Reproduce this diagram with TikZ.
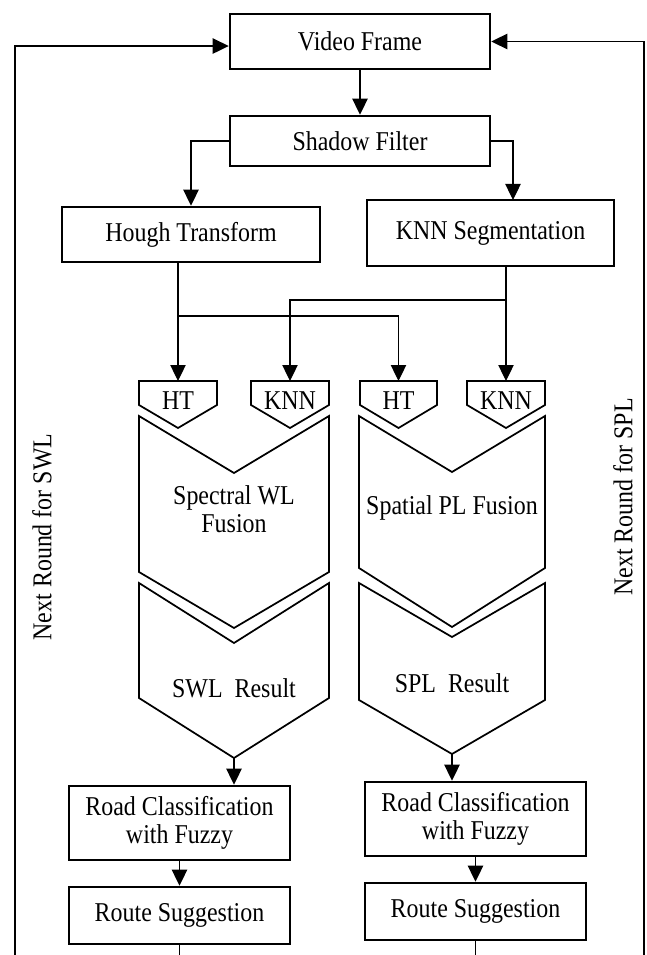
\documentclass[tikz,border=0pt]{standalone}
\usepackage{fontspec}
\setmainfont{Liberation Serif}[FakeStretch=0.88]
\usetikzlibrary{arrows.meta}

\tikzset{every picture/.style={line width=0.75pt}}
\tikzset{
  procbox/.style={draw, line width=1.9pt, inner sep=0pt, align=center, font=\fontsize{20.4}{20.5}\selectfont},
  plaintext/.style={inner sep=0pt, align=center, font=\fontsize{20.4}{21}\selectfont},
  flow/.style={line width=0.9pt, -{Triangle[length=12pt,width=11.5pt]}},
  stage/.style={line width=1.3pt, line join=miter},
}

\begin{document}
\begin{tikzpicture}[x=0.75pt,y=0.75pt,yscale=-1,xscale=1]
    \useasboundingbox (0,0) rectangle (646,955);

    %Shape: Rectangle [vf]
    \node[procbox, minimum width=195pt, minimum height=41.25pt] (vf) at (360,41.5) {Video Frame};
    %Shape: Rectangle [sf]
    \node[procbox, minimum width=195pt, minimum height=37.5pt] (sf) at (360,141) {Shadow Filter};
    %Shape: Rectangle [ht]
    \node[procbox, minimum width=193.5pt, minimum height=41.25pt] (ht) at (191,234.5) {Hough Transform};
    %Shape: Rectangle [knn]
    \node[procbox, minimum width=185.25pt, minimum height=49.5pt] (knn) at (490.5,233) {KNN Segmentation};

    %Shape: Tags over the fusion stages
    \draw[stage] (139,381) -- (217,381) -- (217,405) -- (178,428) -- (139,405) -- cycle ;
    \draw[stage] (251,381) -- (329,381) -- (329,405) -- (290,428) -- (251,405) -- cycle ;
    \draw[stage] (360,381) -- (437,381) -- (437,405) -- (398.5,428) -- (360,405) -- cycle ;
    \draw[stage] (467,381) -- (545,381) -- (545,405) -- (506,428) -- (467,405) -- cycle ;

    %Shape: Chevron (spectral fusion)
    \draw[stage] (139,416) -- (234,473) -- (329,416) -- (329,572) -- (234,628) -- (139,572) -- cycle ;
    %Shape: Chevron (spatial fusion)
    \draw[stage] (359,416) -- (452,472) -- (545,416) -- (545,568) -- (452,627) -- (359,568) -- cycle ;
    %Shape: Chevron (SWL result)
    \draw[stage] (139,583) -- (234,643) -- (329,583) -- (329,698) -- (234,758) -- (139,698) -- cycle ;
    %Shape: Chevron (SPL result)
    \draw[stage] (359,583) -- (452,637) -- (545,583) -- (545,700) -- (452,754) -- (359,700) -- cycle ;

    %Shape: Rectangle [rcA, rsA]
    \node[procbox, minimum width=165.75pt, minimum height=55.5pt] (rcA) at (179.5,823) {Road Classification\\with Fuzzy};
    \node[procbox, minimum width=165.75pt, minimum height=42.75pt] (rsA) at (179.5,915.5) {Route Suggestion};
    %Shape: Rectangle [rcB, rsB]
    \node[procbox, minimum width=165.75pt, minimum height=55.5pt] (rcB) at (475.5,819) {Road Classification\\with Fuzzy};
    \node[procbox, minimum width=165.75pt, minimum height=42.75pt] (rsB) at (475.5,911.5) {Route Suggestion};

    % Text Node
    \node[plaintext] (htAtxt) at (178,401) {HT};
    % Text Node
    \node[plaintext] (knnAtxt) at (290,401) {KNN};
    % Text Node
    \node[plaintext] (htBtxt) at (398.5,401) {HT};
    % Text Node
    \node[plaintext] (knnBtxt) at (506,401) {KNN};
    % Text Node
    \node[plaintext] (swlfuse) at (234,509) {Spectral WL\\Fusion};
    % Text Node
    \node[plaintext] (splfuse) at (452,508) {Spatial PL Fusion};
    % Text Node
    \node[plaintext] (swlres) at (234,688) {SWL\ \ Result};
    % Text Node
    \node[plaintext] (splres) at (452,683) {SPL\ \ Result};
    % Text Node
    \node[plaintext, rotate=90] (swlnext) at (42,537) {Next Round for SWL};
    % Text Node
    \node[plaintext, rotate=90] (splnext) at (623,497) {Next Round for SPL};

    % connector end points
    \coordinate (htA) at (178,381);
    \coordinate (knnA) at (290,381);
    \coordinate (htB) at (398.5,381);
    \coordinate (knnB) at (506,381);
    \coordinate (htsplit) at (178,316);
    \coordinate (knnsplit) at (506,300);
    \coordinate (knnin) at (513,200);
    \coordinate (swltip) at (234,758);
    \coordinate (spltip) at (452,754);
    \coordinate (swlback) at (15,955);
    \coordinate (splback) at (644,955);

    %Straight Lines
    \draw[flow] (vf) -- (sf);
    \draw[flow] (sf.west) -| (ht.north);
    \draw[flow] (sf.east) -| (knnin);
    \draw[flow] (ht.south -| htA) -- (htA);
    \draw[flow] (htsplit) -| (htB);
    \draw[flow] (knn.south -| knnB) -- (knnB);
    \draw[flow] (knnsplit) -| (knnA);
    \draw[flow] (swltip) -- (swltip |- rcA.north);
    \draw[flow] (spltip) -- (spltip |- rcB.north);
    \draw[flow] (rcA) -- (rsA);
    \draw[flow] (rcB) -- (rsB);
    \draw[line width=0.9pt] (rsA.south) -- (rsA.south |- swlback);
    \draw[line width=0.9pt] (rsB.south) -- (rsB.south |- splback);
    %Straight Lines [feedback]
    \draw[flow] (swlback) |- ([yshift=3.4pt]vf.west);
    \draw[flow] (splback) |- (vf.east);

  \end{tikzpicture}
\end{document}
